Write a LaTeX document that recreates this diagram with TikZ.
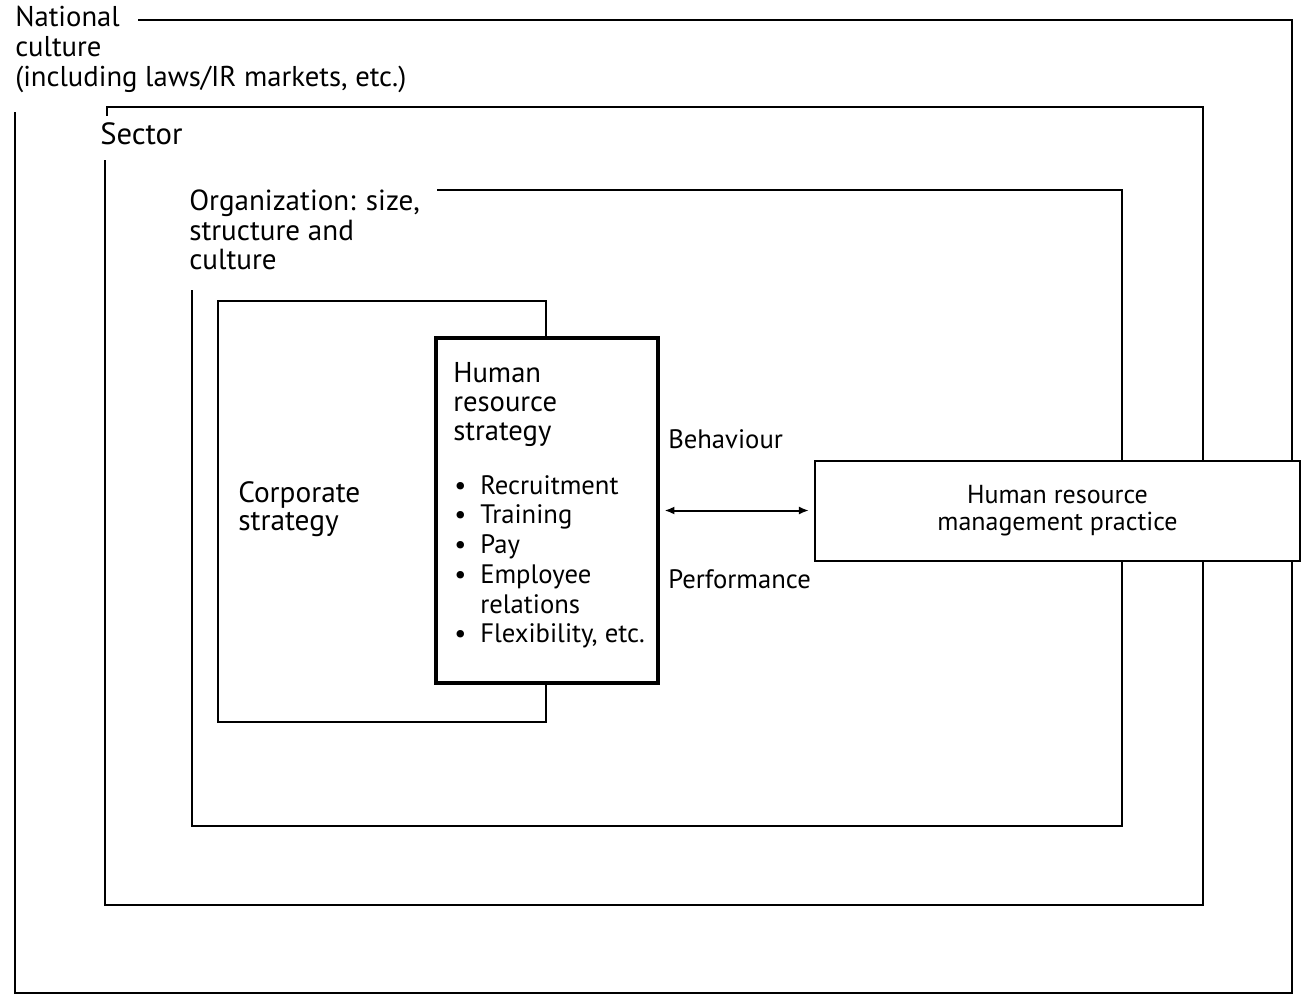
\documentclass[tikz,border=0pt]{standalone}
\usepackage{fontspec}
\setmainfont{PT Sans}
\usetikzlibrary{arrows.meta}
\begin{document}
\begin{tikzpicture}[x=0.75pt,y=-0.75pt,
  frame/.style={line width=2.1pt, line join=miter},
  lbl/.style={inner sep=0pt, anchor=north west, align=left},
  box/.style={draw, line width=2.1pt, fill=white, inner sep=0pt},
  link/.style={line width=1.5pt, {Latex[length=7.5pt,width=6pt]}-{Latex[length=7.5pt,width=6pt]}, shorten <=3.5pt, shorten >=3.5pt}]
\useasboundingbox (0,0) rectangle (1305,1002);
\fill[white] (0,0) rectangle (1305,1002);

% nested context frames, each open where its label sits
\draw[frame] (138,20) -| (1292,993) -| (15,112);
\draw[frame] (107,116) -- (107,107) -- (1203,107) -- (1203,905) -- (105,905) -- (105,160);
\draw[frame] (437,190) -| (1122,826) -| (192,290);

% corporate strategy frame
\draw[frame] (218,301) rectangle (546,722);

% frame labels
\node[lbl, font=\fontsize{21.5}{22.5}\selectfont] (nat) at (15,6) {National\\culture\\(including laws/IR markets, etc.)};
\node[lbl, font=\fontsize{23}{24}\selectfont] (sec) at (100,122) {Sector};
\node[lbl, font=\fontsize{21.8}{21.8}\selectfont] (org) at (189,190) {Organization: size,\\structure and\\culture};
\node[lbl, font=\fontsize{22}{21}\selectfont] (corp) at (238,481) {Corporate\\strategy};

% HR strategy box
\node[box, line width=2.6pt, minimum width=166.5pt, minimum height=258.75pt] (hrs) at (547,510.5) {};
\node[lbl, font=\fontsize{21.5}{21.8}\selectfont] (hrstitle) at (453,362) {Human\\resource\\strategy};
\node[lbl, font=\fontsize{20}{22.3}\selectfont] (hrslist) at (454,475)
  {\makebox[19.5pt][l]{\textbullet}Recruitment\\
   \makebox[19.5pt][l]{\textbullet}Training\\
   \makebox[19.5pt][l]{\textbullet}Pay\\
   \makebox[19.5pt][l]{\textbullet}Employee\\
   \makebox[19.5pt][l]{}relations\\
   \makebox[19.5pt][l]{\textbullet}Flexibility, etc.};

% HRM practice box
\node[box, minimum width=363.75pt, minimum height=75pt, font=\fontsize{19.5}{20.3}\selectfont, align=center] (hrm) at (1057.5,511) {Human resource\\management practice};

% link between strategy and practice
\draw[link] (hrs.east) -- (hrs.east -| hrm.west);
\node[lbl, font=\fontsize{20}{20}\selectfont] (beh) at (668,429) {Behaviour};
\node[lbl, font=\fontsize{20}{20}\selectfont] (perf) at (668,569) {Performance};
\end{tikzpicture}
\end{document}
